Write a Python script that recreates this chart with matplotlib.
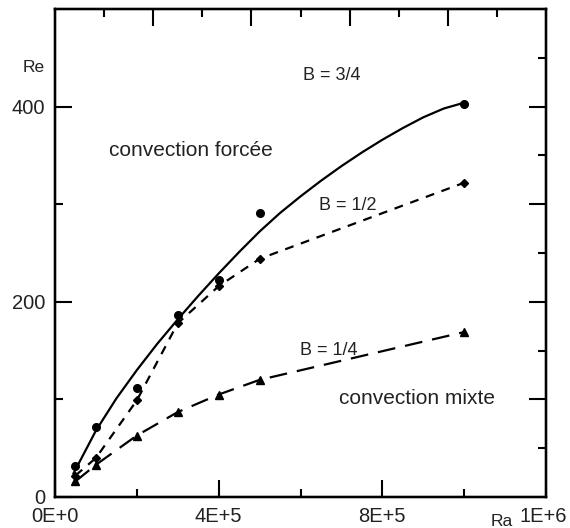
import matplotlib
matplotlib.use('Agg')
import matplotlib.pyplot as plt
from matplotlib.ticker import FixedLocator, NullFormatter

plt.rcParams['font.family'] = ['Liberation Sans', 'DejaVu Sans']

# Ra values of the measured points
ra = [0.5e5, 1e5, 2e5, 3e5, 4e5, 5e5, 10e5]

# Re measured for each aspect ratio B
re_b34 = [32, 72, 112, 186, 222, 291, 403]
re_b12 = [22, 40, 99, 178, 216, 244, 322]
re_b14 = [16, 33, 63, 87, 105, 120, 169]

# fitted curve for B = 3/4
fit_ra = [0.45e5, 1e5, 1.5e5, 2e5, 2.5e5, 3e5, 3.5e5, 4e5, 4.5e5, 5e5,
          5.5e5, 6e5, 6.5e5, 7e5, 7.5e5, 8e5, 8.5e5, 9e5, 9.5e5, 10e5]
fit_re = [24, 68, 101, 130, 157, 182, 206, 229, 251, 272,
          291, 308, 324, 339, 353, 366, 378, 389, 398, 404]

W, H = 570, 528
fig = plt.figure(figsize=(W / 100, H / 100), dpi=100)
ax = fig.add_axes([55 / W, 1 - 497 / H, (546 - 55) / W, (497 - 9) / H])

lw = 1.6
ax.plot(fit_ra, fit_re, color='black', linewidth=lw, solid_joinstyle='round')
ax.plot(ra, re_b34, linestyle='none', marker='o', markersize=5.5, color='black')
ax.plot(ra, re_b12, linestyle=(0, (4, 3.5)), linewidth=lw, marker='D',
        markersize=4, color='black')
ax.plot(ra, re_b14, linestyle=(0, (8, 4.5)), linewidth=lw, marker='^',
        markersize=5.5, color='black')

ax.set_xlim(0, 1.2e6)
ax.set_ylim(0, 500)

# bottom / left ticks
ax.xaxis.set_major_locator(FixedLocator([0, 4e5, 8e5]))
ax.xaxis.set_minor_locator(FixedLocator([2e5, 6e5, 10e5]))
ax.set_xticklabels(['0E+0', '4E+5', '8E+5'])
ax.yaxis.set_major_locator(FixedLocator([0, 200, 400]))
ax.yaxis.set_minor_locator(FixedLocator([100, 300]))
ax.set_yticklabels(['0', '200', '400'])
ax.tick_params(which='major', direction='in', length=12, width=1.5,
               labelsize=14.5, labelcolor='#222222')
ax.tick_params(axis='x', which='major', pad=7)
ax.tick_params(axis='y', which='major', pad=7)
ax.tick_params(which='minor', direction='in', length=6, width=1.5)

# top / right ticks on their own scales
axt = ax.twiny()
axt.set_xlim(0, 10)
axt.xaxis.set_major_locator(FixedLocator([2, 4, 6, 8]))
axt.xaxis.set_minor_locator(FixedLocator([1, 3, 5, 7, 9]))
axt.xaxis.set_major_formatter(NullFormatter())
axt.tick_params(which='major', direction='in', length=12, width=1.5)
axt.tick_params(which='minor', direction='in', length=6, width=1.5)

axr = ax.twinx()
axr.set_ylim(0, 500)
axr.yaxis.set_major_locator(FixedLocator([100, 200, 300, 400]))
axr.yaxis.set_minor_locator(FixedLocator([50, 150, 250, 350, 450]))
axr.yaxis.set_major_formatter(NullFormatter())
axr.tick_params(which='major', direction='in', length=12, width=1.5)
axr.tick_params(which='minor', direction='in', length=6, width=1.5)

for a in (ax, axt, axr):
    for s in a.spines.values():
        s.set_linewidth(1.6)

txt = dict(fontsize=15, color='#222222', ha='center', va='center')
ax.text(6.76e5, 432, 'B = 3/4', **{**txt, 'fontsize': 13})
ax.text(3.31e5, 355, 'convection forcée', **txt)
ax.text(7.15e5, 299, 'B = 1/2', **{**txt, 'fontsize': 13})
ax.text(6.69e5, 150, 'B = 1/4', **{**txt, 'fontsize': 13})
ax.text(8.84e5, 101, 'convection mixte', **txt)

fig.text(34 / W, 1 - 67 / H, 'Re', fontsize=12.5, color='#222222',
         ha='center', va='center')
fig.text(502 / W, 1 - 521 / H, 'Ra', fontsize=12.5, color='#222222',
         ha='center', va='center')
fig.text(543 / W, 1 - 517 / H, '1E+6', fontsize=14.5, color='#222222',
         ha='center', va='center')

fig.savefig('out.png', dpi=100)
